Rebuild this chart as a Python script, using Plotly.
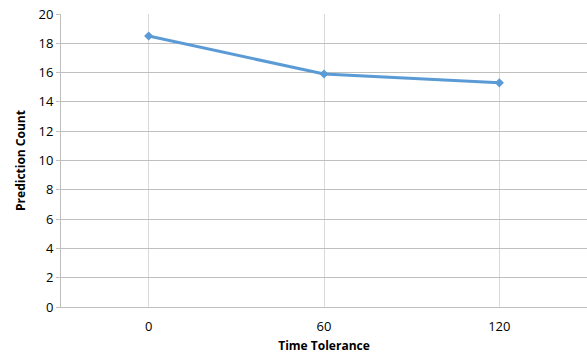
import plotly.graph_objects as go

categories = ["0", "60", "120"]
values = [18.5, 15.9, 15.3]
y_ticks = [0, 2, 4, 6, 8, 10, 12, 14, 16, 18, 20]

fig = go.Figure()
fig.add_trace(go.Scatter(
    x=categories, y=values, mode="lines+markers",
    line=dict(color="#5B9BD5", width=3),
    marker=dict(symbol="diamond", size=7, color="#5B9BD5"),
    showlegend=False,
))

font = "Open Sans, Liberation Sans, sans-serif"
fig.update_layout(
    width=587, height=355,
    margin=dict(l=61, r=0, t=14, b=48),
    paper_bgcolor="white", plot_bgcolor="white",
    font=dict(family=font, size=12, color="#000000"),
    xaxis=dict(
        type="category", range=[-0.5, 2.5],
        showgrid=True, gridcolor="#D9D9D9", gridwidth=1,
        showline=True, linecolor="#BFBFBF", linewidth=1,
        ticks="outside", ticklen=7, tickcolor="rgba(0,0,0,0)",
        tickfont=dict(size=13, family=font),
        title=dict(text="<b>Time Tolerance</b>", font=dict(size=12, family=font), standoff=8),
        zeroline=False,
    ),
    yaxis=dict(
        range=[0, 20], tickvals=y_ticks,
        showgrid=True, gridcolor="#BFBFBF", gridwidth=1,
        showline=True, linecolor="#BFBFBF", linewidth=1,
        ticks="outside", ticklen=4, tickcolor="#BFBFBF",
        tickfont=dict(size=13, family=font),
        title=dict(text="<b>Prediction Count</b>", font=dict(size=12, family=font), standoff=10),
        zeroline=False,
    ),
)
fig.write_html("out.html")
